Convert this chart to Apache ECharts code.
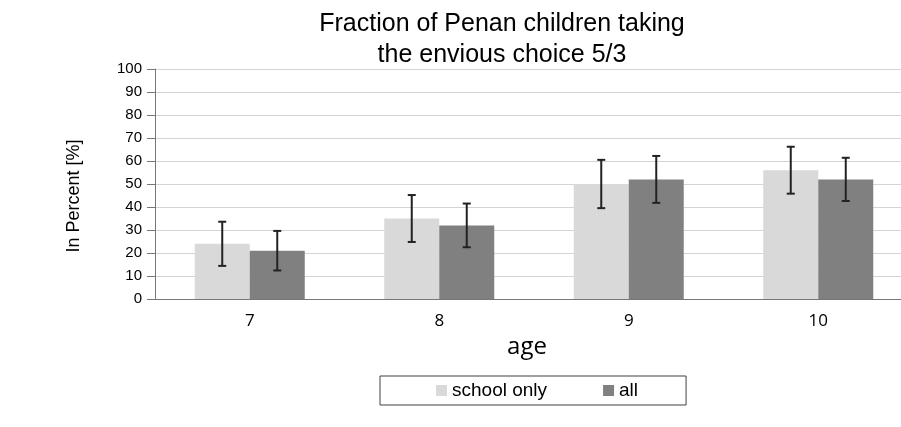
<!DOCTYPE html>
<html>
<head>
<meta charset="utf-8">
<script src="https://cdn.jsdelivr.net/npm/echarts@6/dist/echarts.min.js"></script>
<style>
  html, body { margin: 0; padding: 0; background: #fff; overflow: hidden; }
  #chart { width: 913px; height: 427px; }
</style>
</head>
<body>
<div id="chart"></div>
<script>
// ages on the x axis
var ages = ['7', '8', '9', '10'];
// bar heights in percent
var schoolOnly = [24, 35, 50, 56];
var allKids = [21, 32, 52, 52];
// half length of the error bars
var schoolOnlyErr = [9.6, 10.2, 10.5, 10.2];
var allKidsErr = [8.6, 9.5, 10.2, 9.4];
var yTicks = [0, 10, 20, 30, 40, 50, 60, 70, 80, 90, 100];

var barW = 55;

function errData(vals, errs) {
  var out = [];
  for (var i = 0; i < vals.length; i++) {
    out.push([i, vals[i] - errs[i], vals[i] + errs[i]]);
  }
  return out;
}

function errRender(offset) {
  return function (params, api) {
    var top = api.coord([api.value(0), api.value(2)]);
    var bot = api.coord([api.value(0), api.value(1)]);
    var x = top[0] + offset;
    var cap = 4;
    var st = { stroke: '#222', lineWidth: 2 };
    return {
      type: 'group',
      children: [
        { type: 'line', shape: { x1: x, y1: top[1], x2: x, y2: bot[1] }, style: st },
        { type: 'line', shape: { x1: x - cap, y1: top[1], x2: x + cap, y2: top[1] }, style: st },
        { type: 'line', shape: { x1: x - cap, y1: bot[1], x2: x + cap, y2: bot[1] }, style: st }
      ]
    };
  };
}

var chartDom = document.getElementById('chart');
var myChart = echarts.init(chartDom);
var option = {
  backgroundColor: '#fff',
  animation: false,
  title: {
    text: 'Fraction of Penan children taking\nthe envious choice 5/3',
    left: 497,
    top: 4,
    textAlign: 'center',
    textStyle: {
      fontFamily: 'Liberation Sans, Arial',
      fontSize: 25,
      fontWeight: 'normal',
      color: '#000',
      lineHeight: 31,
      align: 'center'
    }
  },
  legend: {
    data: ['school only', 'all'],
    left: 380,
    top: 376,
    padding: [5, 48, 5, 56],
    itemWidth: 11,
    itemHeight: 11,
    itemGap: 56,
    icon: 'rect',
    borderColor: '#404040',
    borderWidth: 1,
    textStyle: { fontFamily: 'Liberation Sans, Arial', fontSize: 19, color: '#000' }
  },
  grid: {
    left: 155,
    right: 0,
    top: 69,
    bottom: 128
  },
  xAxis: {
    type: 'category',
    data: ages,
    name: 'age',
    nameLocation: 'middle',
    nameGap: 36,
    nameTextStyle: { fontFamily: 'Open Sans', fontSize: 24, color: '#000', padding: [0, 14, 0, 0] },
    axisLine: { lineStyle: { color: '#777', width: 1 } },
    axisTick: { length: 5, lineStyle: { color: '#777' } },
    axisLabel: { fontFamily: 'Open Sans', fontSize: 17, color: '#000', margin: 14 }
  },
  yAxis: {
    type: 'value',
    min: 0,
    max: 100,
    interval: 10,
    name: 'In Percent [%]',
    nameLocation: 'middle',
    nameGap: 72,
    nameTextStyle: { fontFamily: 'Liberation Sans, Arial', fontSize: 18, color: '#000', padding: [0, 24, 0, 0] },
    axisLine: { show: true, lineStyle: { color: '#777', width: 1 } },
    axisTick: { show: true, length: 8, lineStyle: { color: '#777' } },
    axisLabel: {
      fontFamily: 'Liberation Sans, Arial',
      fontSize: 15,
      color: '#000',
      margin: 13,
      formatter: function (v) { return yTicks.indexOf(v) >= 0 ? String(v) : ''; }
    },
    splitLine: { lineStyle: { color: '#d4d4d4', width: 1 } }
  },
  series: [
    {
      name: 'school only',
      type: 'bar',
      data: schoolOnly,
      barWidth: barW,
      barGap: '0%',
      itemStyle: { color: '#d9d9d9' }
    },
    {
      name: 'all',
      type: 'bar',
      data: allKids,
      barWidth: barW,
      barGap: '0%',
      itemStyle: { color: '#808080' }
    },
    {
      type: 'custom',
      data: errData(schoolOnly, schoolOnlyErr),
      encode: { x: 0, y: [1, 2] },
      renderItem: errRender(-barW / 2),
      z: 5
    },
    {
      type: 'custom',
      data: errData(allKids, allKidsErr),
      encode: { x: 0, y: [1, 2] },
      renderItem: errRender(barW / 2),
      z: 5
    }
  ]
};
option && myChart.setOption(option);
</script>
</body>
</html>
